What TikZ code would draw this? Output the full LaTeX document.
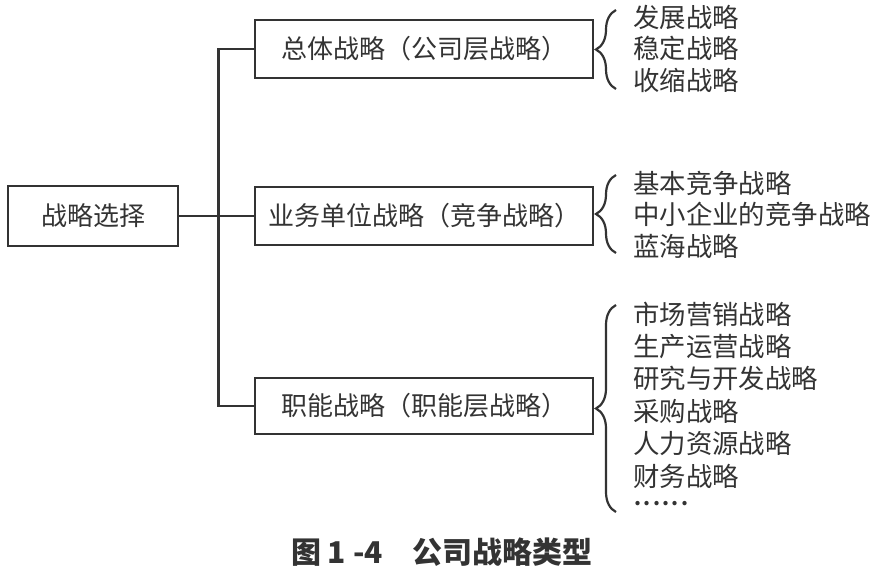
\documentclass[tikz,border=0pt]{standalone}
\usepackage{fontspec}
\setmainfont{Noto Sans CJK SC}
\usepackage{xcolor}
\usetikzlibrary{calc, decorations.pathreplacing}

\tikzset{
  box/.style={draw, line width=1.4pt, inner sep=0pt, font=\fontsize{13}{15}\selectfont},
  item/.style={anchor=west, inner sep=0pt, font=\fontsize{13.2}{15}\selectfont},
  curly/.style={decorate, decoration={brace, amplitude=10pt}, line width=1.1pt},
}

\begin{document}
\begin{tikzpicture}[x=0.5pt, y=-0.5pt, line width=1.2pt, black!80]
  \useasboundingbox (0,0) rectangle (879,578);

  \node[box, minimum width=85pt, minimum height=30pt] (root) at (93,216) {战略选择};
  \node[box, minimum width=169pt, minimum height=29pt] (top) at (424,49) {总体战略（公司层战略）};
  \node[box, minimum width=169pt, minimum height=29pt] (mid) at (424,216) {业务单位战略（竞争战略）};
  \node[box, minimum width=169pt, minimum height=28pt] (bot) at (424,406) {职能战略（职能层战略）};

  \draw (root.east) -- (mid.west);
  \draw (top.west) -- ++(-35,0) |- (bot.west);

  \foreach \t [count=\i] in {发展战略,稳定战略,收缩战略}
    \node[item] (a\i) at (632,{17+31.5*(\i-1)}) {\t};
  \foreach \t [count=\i] in {基本竞争战略,中小企业的竞争战略,蓝海战略}
    \node[item] (b\i) at (632,{183+31.5*(\i-1)}) {\t};
  \foreach \t [count=\i] in {市场营销战略,生产运营战略,研究与开发战略,采购战略,人力资源战略,财务战略}
    \node[item] (c\i) at (632,{314+32.4*(\i-1)}) {\t};
  \node[item, anchor=base west, font=\fontsize{10}{11}\selectfont\bfseries] (c7) at (633,505) {.\kern1.2pt.\kern1.2pt.\kern1.2pt.\kern1.2pt.\kern1.2pt.};

  \draw[curly] ($(a3.west)+(-16,9)$) -- ($(a1.west)+(-16,-7)$);
  \draw[curly] ($(b3.west)+(-16,7)$) -- ($(b1.west)+(-16,-8)$);
  \draw[curly] ($(c7.base west)+(-17,7)$) -- ($(c1.west)+(-16,-9)$);

  \node[font=\fontsize{15}{17}\selectfont\bfseries] (cap) at (442,552) {图 1 -4\quad 公司战略类型};
\end{tikzpicture}
\end{document}
